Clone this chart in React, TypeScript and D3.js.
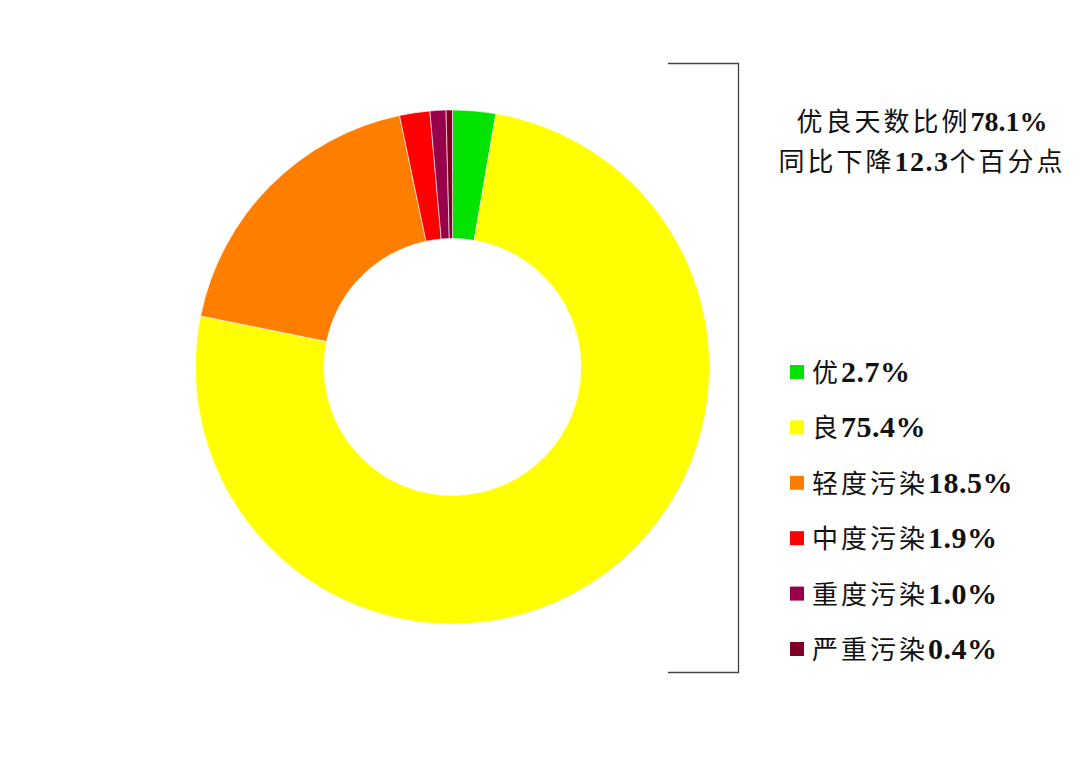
import { useEffect, useRef } from 'react';
import * as d3 from 'd3';

// air quality categories and their share of days (%)
const categories = ['优', '良', '轻度污染', '中度污染', '重度污染', '严重污染'];
const shares = [2.7, 75.4, 18.5, 1.9, 1.0, 0.4];
const shareLabels = ['2.7%', '75.4%', '18.5%', '1.9%', '1.0%', '0.4%'];
const colors = ['#00e400', '#ffff00', '#ff7e00', '#ff0000', '#99004c', '#7e0023'];

const summaryLines = [
  { cn: '优良天数比例', num: '78.1%', tail: '' },
  { cn: '同比下降', num: '12.3', tail: '个百分点' },
];

const W = 1080;
const H = 763;
const CJK = '"Noto Sans CJK SC", sans-serif';
const SERIF = '"Liberation Serif", "Times New Roman", serif';

type Slice = { name: string; value: number; label: string; color: string };

export default function App() {
  const svgRef = useRef<SVGSVGElement>(null);

  useEffect(() => {
    if (!svgRef.current) return;
    const svg = d3.select(svgRef.current);
    svg.selectAll('*').remove();

    const data: Slice[] = categories.map((name, i) => ({
      name,
      value: shares[i],
      label: shareLabels[i],
      color: colors[i],
    }));

    const cx = 452.5;
    const cy = 367;
    const outerR = 257;
    const innerR = 128.5;

    const pie = d3.pie<Slice>().value(d => d.value).sort(null);
    const arc = d3.arc<d3.PieArcDatum<Slice>>().innerRadius(innerR).outerRadius(outerR);

    svg
      .append('g')
      .attr('transform', `translate(${cx},${cy})`)
      .selectAll('path')
      .data(pie(data))
      .join('path')
      .attr('d', arc)
      .attr('fill', d => d.data.color)
      .attr('stroke', '#fff')
      .attr('stroke-width', 0.6);

    // bracket on the right
    svg
      .append('path')
      .attr('d', 'M668,63.5 H738.5 V672.5 H668')
      .attr('fill', 'none')
      .attr('stroke', '#444')
      .attr('stroke-width', 1.3);

    // summary text
    const summary = svg.append('g');
    summaryLines.forEach((l, i) => {
      const t = summary
        .append('text')
        .attr('x', 922)
        .attr('y', 131 + i * 40)
        .attr('text-anchor', 'middle')
        .attr('fill', '#111');
      t.append('tspan').attr('font-family', CJK).attr('font-size', 26).attr('letter-spacing', 3).text(l.cn);
      t.append('tspan')
        .attr('font-family', SERIF)
        .attr('font-size', 28)
        .attr('font-weight', 'bold')
        .attr('letter-spacing', l.tail ? 1.5 : 0)
        .text(l.num);
      if (l.tail) t.append('tspan').attr('font-family', CJK).attr('font-size', 26).attr('letter-spacing', 3).text(l.tail);
    });

    // legend
    const legend = svg
      .append('g')
      .selectAll('g')
      .data(data)
      .join('g')
      .attr('transform', (_, i) => `translate(790,${372 + i * 55.4})`);

    legend
      .append('rect')
      .attr('x', 0)
      .attr('y', -7)
      .attr('width', 14)
      .attr('height', 14)
      .attr('fill', d => d.color);

    const lt = legend
      .append('text')
      .attr('x', 22)
      .attr('y', 10)
      .attr('fill', '#111');
    lt.append('tspan').attr('font-family', CJK).attr('font-size', 26).attr('letter-spacing', 3).text(d => d.name);
    lt.append('tspan')
      .attr('font-family', SERIF)
      .attr('font-size', 30)
      .attr('font-weight', 'bold')
      .attr('letter-spacing', 0.5)
      .text(d => d.label);
  }, []);

  return (
    <div style={{ width: W, height: H, margin: -8, background: '#fff' }}>
      <svg ref={svgRef} width={W} height={H} viewBox={`0 0 ${W} ${H}`} style={{ display: 'block' }} />
    </div>
  );
}
